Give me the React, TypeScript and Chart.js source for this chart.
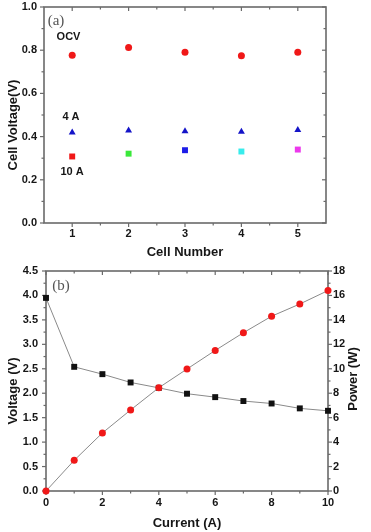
import React, { useEffect, useRef } from "react";
import { Chart, registerables } from "chart.js";

Chart.register(...registerables);

// ---- Panel (a): cell voltages ----
const cellNumbers = [1, 2, 3, 4, 5];
const ocvVoltage = [0.777, 0.813, 0.79, 0.774, 0.79];
const voltage4A = [0.419, 0.428, 0.425, 0.423, 0.431];
const voltage10A = [0.308, 0.321, 0.337, 0.331, 0.34];
const colors10A = ["#f01818", "#3ae83a", "#1c1ce8", "#38ecec", "#ec38ec"];

// ---- Panel (b): stack polarization ----
const currentA = [0, 1, 2, 3, 4, 5, 6, 7, 8, 9, 10];
const stackVoltage = [3.95, 2.54, 2.39, 2.22, 2.11, 1.99, 1.92, 1.84, 1.79, 1.69, 1.64];
const stackPower = [0, 2.51, 4.75, 6.63, 8.45, 9.98, 11.5, 12.95, 14.3, 15.3, 16.4];

const SANS = "'Liberation Sans', Arial, sans-serif";
const SERIF = "'Liberation Serif', 'DejaVu Serif', serif";
const TXT = "#161616";
const FRAME = "#6a6a6a";

type Side = { scaleId: string; side: "bottom" | "left" | "top" | "right"; dir: "in" | "out" };
type Label = { text: string; x: number; y: number; font: string; color: string; align?: CanvasTextAlign };
type VTitle = { text: string; x: number; y: number };

function makeFramePlugin(sides: Side[], labels: Label[], vtitles: VTitle[]) {
  return {
    id: "frameTicks",
    beforeDatasetsDraw(chart: any) {
      const { ctx, chartArea: a } = chart;
      ctx.save();
      ctx.strokeStyle = FRAME;
      ctx.lineWidth = 1.6;
      ctx.strokeRect(a.left, a.top, a.right - a.left, a.bottom - a.top);
      ctx.lineWidth = 1.2;
      for (const s of sides) {
        const scale = chart.scales[s.scaleId];
        const majors: number[] = scale.ticks.map((t: any) => t.value);
        const minors: number[] = [];
        for (let i = 0; i < majors.length - 1; i++) minors.push((majors[i] + majors[i + 1]) / 2);
        const sign = s.dir === "out" ? 1 : -1;
        const draw = (v: number, len: number) => {
          const p = scale.getPixelForValue(v);
          ctx.beginPath();
          if (s.side === "bottom") { ctx.moveTo(p, a.bottom); ctx.lineTo(p, a.bottom + sign * len); }
          if (s.side === "top") { ctx.moveTo(p, a.top); ctx.lineTo(p, a.top - sign * len); }
          if (s.side === "left") { ctx.moveTo(a.left, p); ctx.lineTo(a.left - sign * len, p); }
          if (s.side === "right") { ctx.moveTo(a.right, p); ctx.lineTo(a.right + sign * len, p); }
          ctx.stroke();
        };
        majors.forEach((v) => draw(v, 4));
        minors.forEach((v) => draw(v, 2.5));
      }
      ctx.restore();
    },
    afterDraw(chart: any) {
      const { ctx, chartArea: a } = chart;
      ctx.save();
      ctx.textBaseline = "middle";
      for (const l of labels) {
        ctx.font = l.font;
        ctx.fillStyle = l.color;
        ctx.textAlign = l.align || "center";
        ctx.fillText(l.text, a.left + l.x, a.top + l.y);
      }
      ctx.font = `bold 13px ${SANS}`;
      ctx.fillStyle = TXT;
      ctx.textAlign = "center";
      for (const t of vtitles) {
        ctx.save();
        ctx.translate(t.x, t.y);
        ctx.rotate(-Math.PI / 2);
        ctx.fillText(t.text, 0, 0);
        ctx.restore();
      }
      ctx.restore();
    },
  };
}

const tickFont = { family: SANS, size: 11, weight: "bold" as const };
const titleFont = { family: SANS, size: 13, weight: "bold" as const };

function fixVertical(width: number) {
  return (scale: any) => {
    scale.width = width;
    scale.paddingTop = 0;
    scale.paddingBottom = 0;
  };
}

function CellChart() {
  const ref = useRef<HTMLCanvasElement>(null);
  useEffect(() => {
    const plugin = makeFramePlugin(
      [
        { scaleId: "x", side: "bottom", dir: "out" },
        { scaleId: "x", side: "top", dir: "in" },
        { scaleId: "y", side: "left", dir: "out" },
        { scaleId: "y", side: "right", dir: "in" },
      ],
      [
        { text: "(a)", x: 12, y: 14, font: `15px ${SERIF}`, color: "#555" },
        { text: "OCV", x: 24.5, y: 29.5, font: `bold 11px ${SANS}`, color: TXT },
        { text: "4 A", x: 27, y: 110, font: `bold 11px ${SANS}`, color: TXT },
        { text: "10 A", x: 28, y: 165, font: `bold 11px ${SANS}`, color: TXT },
      ],
      [{ text: "Cell Voltage(V)", x: 13, y: 125 }]
    );
    const chart = new Chart(ref.current!, {
      type: "scatter",
      data: {
        datasets: [
          {
            label: "OCV",
            data: cellNumbers.map((x, i) => ({ x, y: ocvVoltage[i] })),
            pointStyle: "circle",
            pointRadius: 3.5,
            backgroundColor: "#f01818",
            borderColor: "#f01818",
            borderWidth: 0,
          },
          {
            label: "4 A",
            data: cellNumbers.map((x, i) => ({ x, y: voltage4A[i] })),
            pointStyle: "triangle",
            pointRadius: 4,
            backgroundColor: "#1414c8",
            borderColor: "#1414c8",
            borderWidth: 0,
          },
          {
            label: "10 A",
            data: cellNumbers.map((x, i) => ({ x, y: voltage10A[i] })),
            pointStyle: "rect",
            pointRadius: 4.2,
            backgroundColor: colors10A,
            borderColor: colors10A,
            borderWidth: 0,
          },
        ],
      },
      options: {
        responsive: false,
        animation: false,
        events: [],
        layout: { padding: { top: 7, right: 45, left: 0, bottom: 0 } },
        plugins: { legend: { display: false }, tooltip: { enabled: false } },
        scales: {
          x: {
            type: "linear",
            min: 0.5,
            max: 5.5,
            afterBuildTicks: (scale: any) => {
              scale.ticks = cellNumbers.map((v) => ({ value: v }));
            },
            afterFit: (scale: any) => {
              scale.height = 37;
            },
            grid: { display: false, drawTicks: false },
            border: { display: false },
            ticks: { font: tickFont, color: TXT, padding: 4, callback: (v: any) => String(v) },
            title: { display: true, text: "Cell Number", font: titleFont, color: TXT, padding: { top: 0, bottom: 0 } },
          },
          y: {
            type: "linear",
            min: 0,
            max: 1,
            afterFit: fixVertical(44),
            grid: { display: false, drawTicks: false },
            border: { display: false },
            ticks: { stepSize: 0.2, font: tickFont, color: TXT, padding: 7, callback: (v: any) => Number(v).toFixed(1) },
          },
        },
      } as any,
      plugins: [plugin],
    });
    return () => chart.destroy();
  }, []);
  return <canvas ref={ref} width={371} height={260} style={{ display: "block", width: 371, height: 260 }} />;
}

function StackChart() {
  const ref = useRef<HTMLCanvasElement>(null);
  useEffect(() => {
    const plugin = makeFramePlugin(
      [
        { scaleId: "x", side: "bottom", dir: "out" },
        { scaleId: "x", side: "top", dir: "in" },
        { scaleId: "y", side: "left", dir: "out" },
        { scaleId: "y1", side: "right", dir: "out" },
      ],
      [{ text: "(b)", x: 15, y: 15, font: `15px ${SERIF}`, color: "#555" }],
      [
        { text: "Voltage (V)", x: 13, y: 131 },
        { text: "Power (W)", x: 353, y: 119 },
      ]
    );
    const chart = new Chart(ref.current!, {
      type: "line",
      data: {
        datasets: [
          {
            label: "Power",
            yAxisID: "y1",
            data: currentA.map((x, i) => ({ x, y: stackPower[i] })),
            borderColor: "#8a8a8a",
            borderWidth: 1,
            pointStyle: "circle",
            pointRadius: 3.5,
            pointBackgroundColor: "#f01818",
            pointBorderColor: "#f01818",
            pointBorderWidth: 0,
            tension: 0,
            clip: false,
          },
          {
            label: "Voltage",
            yAxisID: "y",
            data: currentA.map((x, i) => ({ x, y: stackVoltage[i] })),
            borderColor: "#8a8a8a",
            borderWidth: 1,
            pointStyle: "rect",
            pointRadius: 4.2,
            pointBackgroundColor: "#111",
            pointBorderColor: "#111",
            pointBorderWidth: 0,
            tension: 0,
            clip: false,
          },
        ],
      },
      options: {
        responsive: false,
        animation: false,
        events: [],
        layout: { padding: { top: 11, right: 0, left: 0, bottom: 0 } },
        plugins: { legend: { display: false }, tooltip: { enabled: false } },
        scales: {
          x: {
            type: "linear",
            min: 0,
            max: 10,
            afterFit: (scale: any) => {
              scale.height = 41;
            },
            grid: { display: false, drawTicks: false },
            border: { display: false },
            ticks: { stepSize: 2, font: tickFont, color: TXT, padding: 5 },
            title: { display: true, text: "Current (A)", font: titleFont, color: TXT, padding: { top: 0, bottom: 1 } },
          },
          y: {
            type: "linear",
            position: "left",
            min: 0,
            max: 4.5,
            afterFit: fixVertical(46),
            grid: { display: false, drawTicks: false },
            border: { display: false },
            ticks: { stepSize: 0.5, font: tickFont, color: TXT, padding: 8, callback: (v: any) => Number(v).toFixed(1) },
          },
          y1: {
            type: "linear",
            position: "right",
            min: 0,
            max: 18,
            afterFit: fixVertical(43),
            grid: { display: false, drawTicks: false },
            border: { display: false },
            ticks: { stepSize: 2, font: tickFont, color: TXT, padding: 5 },
          },
        },
      } as any,
      plugins: [plugin],
    });
    return () => chart.destroy();
  }, []);
  return <canvas ref={ref} width={371} height={272} style={{ display: "block", width: 371, height: 272 }} />;
}

export default function App() {
  return (
    <div style={{ position: "absolute", left: 0, top: 0, width: 371, height: 532, background: "#fff" }}>
      <CellChart />
      <StackChart />
    </div>
  );
}
